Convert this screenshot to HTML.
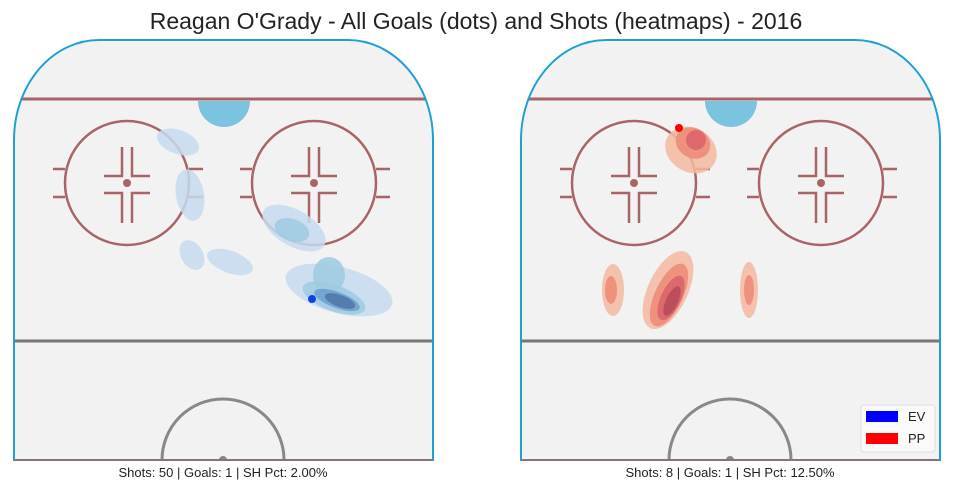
<!DOCTYPE html>
<html><head><meta charset="utf-8"><style>
html,body{margin:0;padding:0;background:#fff;font-family:"Liberation Sans",sans-serif;width:953px;height:493px;overflow:hidden;position:relative}
svg{display:block;position:absolute;left:0;top:0;overflow:hidden}
</style></head><body>
<svg width="953" height="493" viewBox="0 0 953 493">
<text x="476" y="29" text-anchor="middle" font-size="23" fill="#222">Reagan O'Grady - All Goals (dots) and Shots (heatmaps) - 2016</text>
<g id="rinks"></g>
<g>
<rect x="861" y="405" width="74" height="47" rx="3" fill="#fafafa" stroke="#ddd"/>
<rect x="866" y="411" width="32" height="11" fill="#0000ff"/>
<text x="908" y="421" font-size="13" fill="#222">EV</text>
<rect x="866" y="433" width="32" height="11" fill="#ff0000"/>
<text x="908" y="443" font-size="13" fill="#222">PP</text>
</g>
</svg>
<script>
const NS="http://www.w3.org/2000/svg";
// data
const panels=["left","right"];
const shotCounts=[50,8];
const goalCounts=[1,1];
const shPct=["2.00%","12.50%"];
// goal dots (rink coords relative to panel left)
const goalX=[[298],[158]];
const goalY=[[299],[128]];
// heat blobs: cx, cy, rx, ry, rotation, level
const leftBlobs=[[164,142,22,12,20,1],[176,195,14,26,-10,1],[178,255,11,16,-30,1],[216,262,24,11,20,1],[280,228,35,18,30,1],[278,230,18,11,20,2],[325,290,55,23,15,1],[315,275,16,18,0,2],[320,298,33,13,20,2],[323,300,24,8,20,3],[326,301,16,6,20,4]];
const rightBlobs=[[170,150,27,22,30,1],[172,143,18,15,30,2],[175,140,10,10,30,3],[92,290,11,26,0,1],[90,290,6,14,0,2],[147,290,20,42,25,1],[148,295,14,34,25,2],[150,298,10,24,25,3],[151,301,6,16,25,4],[228,290,9,28,0,1],[228,290,5,15,0,2]];
const blobs=[leftBlobs,rightBlobs];
const blueCols=["#c6dbef","#9ecae1","#6a9fcc","#4f74a8"];
const redCols=["#f4b8a0","#ec8a76","#d9606a","#b44a58"];
function el(t,a,p){const e=document.createElementNS(NS,t);for(const k in a)e.setAttribute(k,a[k]);p.appendChild(e);return e;}
const root=document.getElementById('rinks');
panels.forEach((p,i)=>{
 const ox=i===0?14:521;
 const g=el('g',{transform:`translate(${ox},0)`},root);
 
 
 const W=419,T=40,B=460;
 const cp=`M0,${B} L0,${T+100} A85,100 0 0 1 85,${T} L${W-85},${T} A85,100 0 0 1 ${W},${T+100} L${W},${B} Z`;
 const clip=el('clipPath',{id:'c'+i},g);el('path',{d:cp},clip);
 el('path',{d:cp,fill:'#f2f2f2'},g);
 const inner=el('g',{'clip-path':`url(#c${i})`},g);
 el('line',{x1:0,y1:99,x2:W,y2:99,stroke:'#a86466','stroke-width':3},inner);
 el('path',{d:'M184,101 A26,26 0 0 0 236,101 Z',fill:'#7bc3de'},inner);
 [113,300].forEach(cx=>{
  const cg=el('g',{stroke:'#a86466','stroke-width':2.5,fill:'none'},inner);
  el('circle',{cx:cx,cy:183,r:62},cg);
  el('circle',{cx:cx,cy:183,r:4,fill:'#a86466',stroke:'none'},cg);
  [[cx-74,cx-62],[cx+62,cx+76]].forEach(([a,b])=>{el('line',{x1:a,y1:169,x2:b,y2:169},cg);el('line',{x1:a,y1:197,x2:b,y2:197},cg);});
  el('path',{d:`M${cx-5},147 V176 H${cx-23} M${cx+5},147 V176 H${cx+23} M${cx-5},223 V193 H${cx-23} M${cx+5},223 V193 H${cx+23}`},cg);
 });
 blobs[i].forEach(b=>{
  const e=el('ellipse',{cx:b[0],cy:b[1],rx:b[2],ry:b[3],transform:`rotate(${b[4]} ${b[0]} ${b[1]})`,fill:(i?redCols:blueCols)[b[5]-1],'fill-opacity':0.85},inner);
  
  
 });
 el('line',{x1:0,y1:341,x2:W,y2:341,stroke:'#777','stroke-width':3},inner);
 el('path',{d:'M148,460 A61,61 0 0 1 270,460',stroke:'#888','stroke-width':3,fill:'none'},inner);
 el('path',{d:'M205,460 A4,4 0 0 1 213,460 Z',fill:'#888'},inner);
 el('path',{d:cp,fill:'none',stroke:'#1ea0d6','stroke-width':2},g);
 el('line',{x1:0,y1:460,x2:W,y2:460,stroke:'#a86466','stroke-width':1.5},g);
 goalX[i].forEach((x,j)=>{
  const d=el('circle',{cx:x,cy:goalY[i][j],r:4,fill:i?'#ff0000':'#1040e0'},g);
  
  
 });
 const t=el('text',{x:209,y:477,'text-anchor':'middle','font-size':13,fill:'#222'},g);
 t.textContent=`Shots: ${shotCounts[i]} | Goals: ${goalCounts[i]} | SH Pct: ${shPct[i]}`;
 
 
});
</script>
</body></html>
